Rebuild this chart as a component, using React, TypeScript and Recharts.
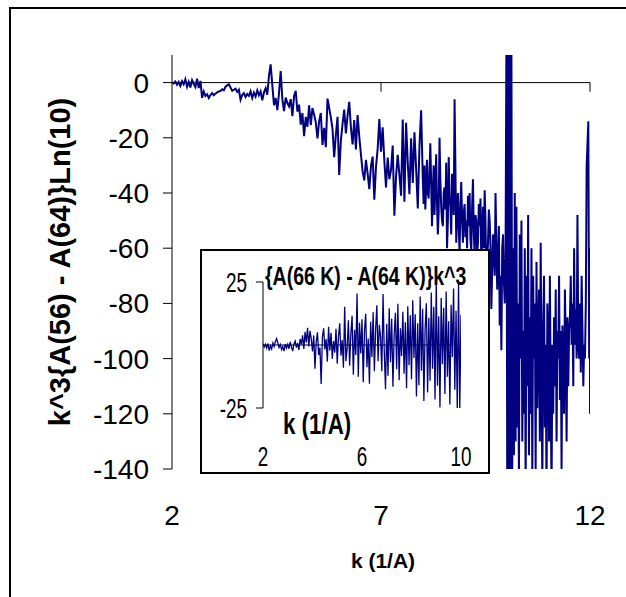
import React from "react";
import {
  LineChart,
  Line,
  XAxis,
  YAxis,
  ReferenceLine,
  Label,
} from "recharts";

const FONT = '"Liberation Sans", Arial, Helvetica, sans-serif';
const NAVY = "#000080";

// main curve, k^3{A(56) - A(64)}Ln(10)
// k = 2..8 sampled every 0.04, k = 8..12 every 0.02
const main2 = [0, -0.3, 0.4, -0.8, 0.2, -1.2, 0.5, -0.6, 1.2, -1.5, 0.3, -1.8, 0.9, -0.5, -1.6, 1.4, -2, 0.6, -5.5, -3.2, -4.8, -4.2, -5.6, -4.5, -3.8];
const main3 = [-4.6, -4, -3.5, -3.2, -3, -2.4, -2.8, -1.5, -1, -0.6, -1.8, -3, -2.6, -2.2, -3.4, -2.6, -6.2, -4.5, -3.8, -5.2, -4.1, -4.8, -3.2, -5.6, -3.6];
const main4 = [-5, -2.8, -4.6, -3.2, -6.4, -3.5, -2, -4.4, 2.5, 6.6, -1, -8.2, -5.6, -10, -3.8, 4.2, -6, -10.3, -5.4, -7.4, -8.6, -6, -12.2, -4.8, -3];
const main5 = [-10.5, -8, -15.2, -11, -19.4, -12.4, -16, -8.2, -15.4, -9.2, -11.6, -14.4, -20.2, -14, -11, -22.6, -16.4, -23.4, -5.8, -9.2, -12.6, -16.8, -27, -19, -12.4];
const main6 = [-33.5, -21, -15, -9.8, -18.4, -12, -7, -16.2, -22.4, -13.6, -24.2, -11.8, -19.6, -26, -32.2, -35.4, -28, -33, -38.6, -30.2, -26.8, -42.4, -30.6, -24, -13.2];
const main7 = [-25, -16.2, -28.4, -38, -27.2, -35, -31.6, -22.8, -48.2, -34, -26.2, -33.4, -41, -13.4, -43.2, -14.6, -29, -40.4, -20.2, -36.4, -18, -31, -45.6, -23, -10];
const main8 = [
  -35, -44, -30, -46, -38, -28, -40, -42, -33, -22,
  -36, -52, -40, -30, -48, -37, -26, -44, -55, -47,
  -20, -35, -45, -50, -52, -40, -38, -46, -29, -60,
  -50, -27, -41, -45, -55, -33, -38, -48, -6, -30,
  -58, -49, -40, -52, -62, -44, -36, -50, -58, -47,
];
const main9 = [
  -44, -56, -50, -60, -41, -52, -40, -57, -61, -45,
  -35, -54, -63, -48, -50, -62, -58, -44, -52, -42,
  -66, -55, -45, -60, -39, -50, -72, -64, -58, -46,
  -50, -60, -82, -68, -55, -62, -70, -40, -58, -75,
  -64, -52, -88, -70, -97, -60, -55, -72, -80, -62,
];
const main10 = [
  15, -150, 15, -150, 15, -150, 15, -140, -60, -135,
  -40, -130, -45, -125, -80, -145, -55, -100, -50, -130,
  -90, -120, -60, -150, -70, -110, -48, -135, -85, -120,
  -60, -145, -70, -100, -80, -140, -65, -118, -92, -75,
  -130, -58, -105, -145, -88, -70, -125, -95, -150, -80,
];
const main11 = [
  -90, -130, -70, -110, -150, -95, -120, -85, -110, -75,
  -130, -90, -100, -70, -115, -90, -140, -88, -100, -120,
  -75, -95, -130, -85, -110, -90, -85, -70, -95, -80,
  -110, -60, -95, -82, -100, -48, -95, -100, -80, -105,
  -70, -90, -110, -95, -100, -80, -30, -22, -14, -100,
];
const mainEnd = [-60, -120];

// inset curve, {A(66 K) - A(64 K)}k^3, sampled every 0.05
const inset2 = [0.5, -0.8, 0.3, -1.2, 0.6, -2.2, -0.4, -1.6, 0.8, -0.6, 1.4, 2.6, 0.8, -1, 0.2, -1.8, -0.6, -2.4, 0.4, -1.2];
const inset3 = [0.3, -1.5, 1.2, -0.8, -2.4, 0.4, 1.6, -1, 0.8, -2, 2.4, 0.2, 3.8, -1.6, 5.2, 1, 6.8, -0.6, 5.6, 2.4];
const inset4 = [-2.6, 3.8, -9.4, 1.2, 5, -4, -1, -15.5, 3.2, 6.6, -1.8, 2.4, -6.6, 7.2, -2.2, 4.8, -5.4, 1.6, -3, 6.4];
const inset5 = [-7.4, 3.4, 8.6, -4.2, 2, -9, 15.2, -6.4, -1.2, 9.8, -8.2, 4.4, 11.6, -11.8, 6, -4, 20.4, -12.6, 8.8, -3.4];
const inset6 = [10.2, -14.8, 5.6, 12.4, -8.8, 2.6, -15.4, 9.2, -4.8, 13, -10.4, 6.2, 15.8, -6.4, 8, 3.2, -10.4, 20.2, -2.8, -17.6];
const inset7 = [8.4, -12.2, 14.6, -6.8, 10.4, -16.6, 4.2, 12.8, -9.6, 16.4, -14, 6.6, -4.4, 13.2, -11.4, 9, -17.2, 15.4, -8, 11.8];
const inset8 = [-13.6, 17.8, -5.2, 12.2, -20.4, 8.6, -16, 19.2, -10.2, 14.4, -22.2, 6.4, 16.6, -18.8, 10.8, -14.2, 20.8, -9.4, 15.2, -21.6];
const inset9 = [25.6, -16.2, 11.4, -24.8, 18.6, -7.6, 14.8, -19.4, 21.2, -12.6, 9.4, -23.6, 16, -4.8, 22.4, -17.8, 13.6, -26, 24.6, -25.5];
const insetEnd = [12];

const mainTicksX = [2, 7, 12];
const mainTicksY = [-140, -120, -100, -80, -60, -40, -20, 0];
const insetTicksX = [2, 6, 10];
const insetTicksY = [-25, 25];

type Pt = { k: number; v: number };

function seg(start: number, step: number, values: number[]): Pt[] {
  return values.map((v, i) => ({ k: +(start + i * step).toFixed(3), v }));
}

const mainData: Pt[] = [
  ...seg(2, 0.04, main2),
  ...seg(3, 0.04, main3),
  ...seg(4, 0.04, main4),
  ...seg(5, 0.04, main5),
  ...seg(6, 0.04, main6),
  ...seg(7, 0.04, main7),
  ...seg(8, 0.02, main8),
  ...seg(9, 0.02, main9),
  ...seg(10, 0.02, main10),
  ...seg(11, 0.02, main11),
  ...seg(12, 0, mainEnd),
];

const insetData: Pt[] = [
  ...seg(2, 0.05, inset2),
  ...seg(3, 0.05, inset3),
  ...seg(4, 0.05, inset4),
  ...seg(5, 0.05, inset5),
  ...seg(6, 0.05, inset6),
  ...seg(7, 0.05, inset7),
  ...seg(8, 0.05, inset8),
  ...seg(9, 0.05, inset9),
  ...seg(10, 0, insetEnd),
];

// tick text, optionally squeezed sideways (the inset's text is narrow)
function Tick(props: any) {
  const { x, y, payload, textAnchor, size, sx = 1 } = props;
  return (
    <text
      transform={`translate(${x},${y}) scale(${sx},1)`}
      x={0}
      y={0}
      dy={size * 0.36}
      textAnchor={textAnchor}
      fontSize={size}
      fontFamily={FONT}
      fill="#000"
    >
      {payload.value}
    </text>
  );
}

function MainChart() {
  return (
    <LineChart
      width={626}
      height={597}
      data={mainData}
      margin={{ top: 55, right: 36, left: 0, bottom: 68 }}
    >
      <XAxis
        dataKey="k"
        type="number"
        domain={[2, 12]}
        allowDataOverflow
        ticks={mainTicksX}
        axisLine={false}
        tickLine={false}
        tickSize={0}
        tickMargin={46}
        height={60}
        tick={(p: any) => <Tick {...p} size={28} />}
      >
        <Label
          content={() => (
            <text
              x={383}
              y={568}
              textAnchor="middle"
              fontSize={21}
              fontWeight="bold"
              fontFamily={FONT}
              fill="#000"
            >
              k (1/A)
            </text>
          )}
        />
      </XAxis>
      <YAxis
        type="number"
        domain={[-140, 10]}
        allowDataOverflow
        ticks={mainTicksY}
        width={172}
        stroke="#000"
        tickSize={9}
        tickMargin={14}
        tick={(p: any) => <Tick {...p} size={28} />}
      >
        <Label
          content={() => (
            <text
              transform="translate(60,262) rotate(-90)"
              dy="0.36em"
              textAnchor="middle"
              fontSize={29}
              fontWeight="bold"
              fontFamily={FONT}
              fill="#000"
            >
              {"k^3{A(56) - A(64)}Ln(10)"}
            </text>
          )}
        />
      </YAxis>
      <ReferenceLine y={0} stroke="#000" strokeWidth={1} />
      <ReferenceLine segment={[{ x: 7, y: 0 }, { x: 7, y: -3.3 }]} stroke="#000" />
      <ReferenceLine segment={[{ x: 12, y: 0 }, { x: 12, y: -3.3 }]} stroke="#000" />
      <Line
        dataKey="v"
        type="linear"
        stroke={NAVY}
        strokeWidth={2}
        dot={false}
        isAnimationActive={false}
      />
    </LineChart>
  );
}

function InsetChart() {
  return (
    <LineChart
      width={290}
      height={225}
      data={insetData}
      margin={{ top: 33, right: 29, left: 0, bottom: 26 }}
    >
      <XAxis
        dataKey="k"
        type="number"
        domain={[2, 10]}
        allowDataOverflow
        ticks={insetTicksX}
        axisLine={false}
        tickLine={false}
        tickSize={0}
        tickMargin={48}
        height={40}
        tick={(p: any) => <Tick {...p} size={27} sx={0.7} />}
      >
        <Label
          content={() => (
            <text
              transform="translate(83,185) scale(0.77,1)"
              fontSize={29}
              fontWeight="bold"
              fontFamily={FONT}
              fill="#000"
            >
              k (1/A)
            </text>
          )}
        />
      </XAxis>
      <YAxis
        type="number"
        domain={[-25, 25]}
        allowDataOverflow
        ticks={insetTicksY}
        width={63}
        stroke="#000"
        tickSize={7}
        tickMargin={9}
        tick={(p: any) => <Tick {...p} size={27} sx={0.7} />}
      >
        <Label
          content={() => (
            <text
              transform="translate(65,36) scale(0.75,1)"
              fontSize={26}
              fontWeight="bold"
              fontFamily={FONT}
              fill="#000"
            >
              {"{A(66 K) - A(64 K)}k^3"}
            </text>
          )}
        />
      </YAxis>
      <ReferenceLine segment={[{ x: 2, y: 0 }, { x: 9.67, y: 0 }]} stroke="#000" />
      <Line
        dataKey="v"
        type="linear"
        stroke={NAVY}
        strokeWidth={1.3}
        dot={false}
        isAnimationActive={false}
      />
    </LineChart>
  );
}

export default function App() {
  return (
    <div
      style={{
        position: "absolute",
        left: 0,
        top: 0,
        width: 626,
        height: 597,
        overflow: "hidden",
        background: "#fff",
      }}
    >
      <div
        style={{
          position: "absolute",
          left: 9,
          top: 7,
          width: 700,
          height: 700,
          borderLeft: "2px solid #000",
          borderTop: "2px solid #000",
        }}
      />
      <div style={{ position: "absolute", left: 0, top: 0 }}>
        <MainChart />
      </div>
      <div
        style={{
          position: "absolute",
          left: 200,
          top: 249,
          width: 290,
          height: 225,
          boxSizing: "border-box",
          border: "2px solid #000",
          background: "#fff",
        }}
      />
      <div style={{ position: "absolute", left: 200, top: 249 }}>
        <InsetChart />
      </div>
    </div>
  );
}
